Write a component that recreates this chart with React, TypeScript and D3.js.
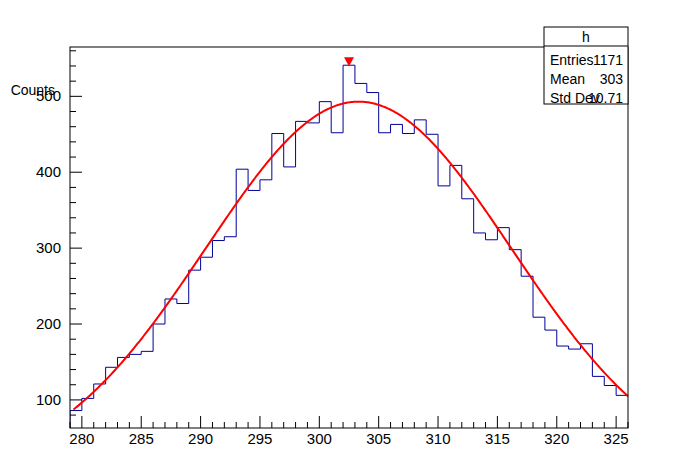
import React from 'react';
import * as d3 from 'd3';

const binStart = 279;
const counts = [
  86, 102, 121, 143, 156, 160, 164, 200, 233, 227, 271, 288, 310, 315, 404, 376, 390, 451,
  407, 467, 465, 493, 452, 541, 517, 505, 452, 463, 451, 469, 450, 382, 409, 365, 320, 311,
  327, 298, 263, 209, 192, 171, 167, 174, 131, 119, 106,
];
const xTicks = [280, 285, 290, 295, 300, 305, 310, 315, 320, 325];
const yTicks = [100, 200, 300, 400, 500];
const fit = { amp: 493, mean: 303.3, sigma: 12.9, from: 279.3, to: 326 };
const stats = [
  ['Entries', '1171'],
  ['Mean', '303'],
  ['Std Dev', '10.71'],
];

const W = 698, H = 476;
const L = 70, R = 628, T = 47, B = 428;
const font = 'Liberation Sans, Arial, sans-serif';

export default function App() {
  const x = d3.scaleLinear().domain([279, 326]).range([L, R]);
  const y = d3.scaleLinear().domain([63, 565]).range([B, T]);

  // step outline
  let d = `M${x(binStart)},${B}`;
  counts.forEach((c, i) => {
    d += `L${x(binStart + i)},${y(c)}L${x(binStart + i + 1)},${y(c)}`;
  });

  const fitPts = d3.range(fit.from, fit.to + 0.001, 0.1).map((v) => [
    v,
    fit.amp * Math.exp(-((v - fit.mean) ** 2) / (2 * fit.sigma ** 2)),
  ]);
  const line = d3.line<number[]>().x((p) => x(p[0])).y((p) => y(p[1]));

  const minorX = d3.range(279, 327, 1);
  const minorY = d3.range(80, 565, 20);
  const peak = d3.maxIndex(counts);
  const mx = x(binStart + peak + 0.5), my = y(counts[peak]);

  return (
    <svg width={W} height={H} style={{ position: 'absolute', left: 0, top: 0, background: '#fff' }} fontFamily={font}>
      <rect x={0} y={0} width={W} height={H} fill="#fff" />
      <defs>
        <clipPath id="frame"><rect x={L} y={T} width={R - L} height={B - T} /></clipPath>
      </defs>
      <path d={d} fill="none" stroke="#000099" strokeWidth={1} clipPath="url(#frame)" />
      <path d={line(fitPts) || ''} fill="none" stroke="#ff0000" strokeWidth={2} />
      <path d={`M${mx - 5},${my - 8}L${mx + 5},${my - 8}L${mx},${my + 1}Z`} fill="#ff0000" />
      <rect x={L} y={T} width={R - L} height={B - T} fill="none" stroke="#000" />
      {minorX.map((v) => (
        <line key={'mx' + v} x1={x(v)} x2={x(v)} y1={B} y2={B - (v % 5 === 0 ? 12 : 6)} stroke="#000" />
      ))}
      {xTicks.map((v) => (
        <text key={'tx' + v} x={x(v)} y={B + 16} fontSize={15} textAnchor="middle">{v}</text>
      ))}
      {minorY.map((v) => (
        <line key={'my' + v} x1={L} x2={L + (v % 100 === 0 ? 12 : 6)} y1={y(v)} y2={y(v)} stroke="#000" />
      ))}
      {yTicks.map((v) => (
        <text key={'ty' + v} x={L - 9} y={y(v) + 5} fontSize={15} textAnchor="end">{v}</text>
      ))}
      <text x={55} y={95} fontSize={14} textAnchor="end">Counts</text>
      <g>
        <rect x={544} y={27} width={84} height={77} fill="#fff" stroke="#000" />
        <line x1={544} x2={628} y1={46} y2={46} stroke="#000" />
        <text x={586} y={42} fontSize={14} textAnchor="middle">h</text>
        {stats.map(([k, v], i) => (
          <g key={k}>
            <text x={550} y={65 + i * 19} fontSize={14}>{k}</text>
            <text x={623} y={65 + i * 19} fontSize={14} textAnchor="end">{v}</text>
          </g>
        ))}
      </g>
    </svg>
  );
}
